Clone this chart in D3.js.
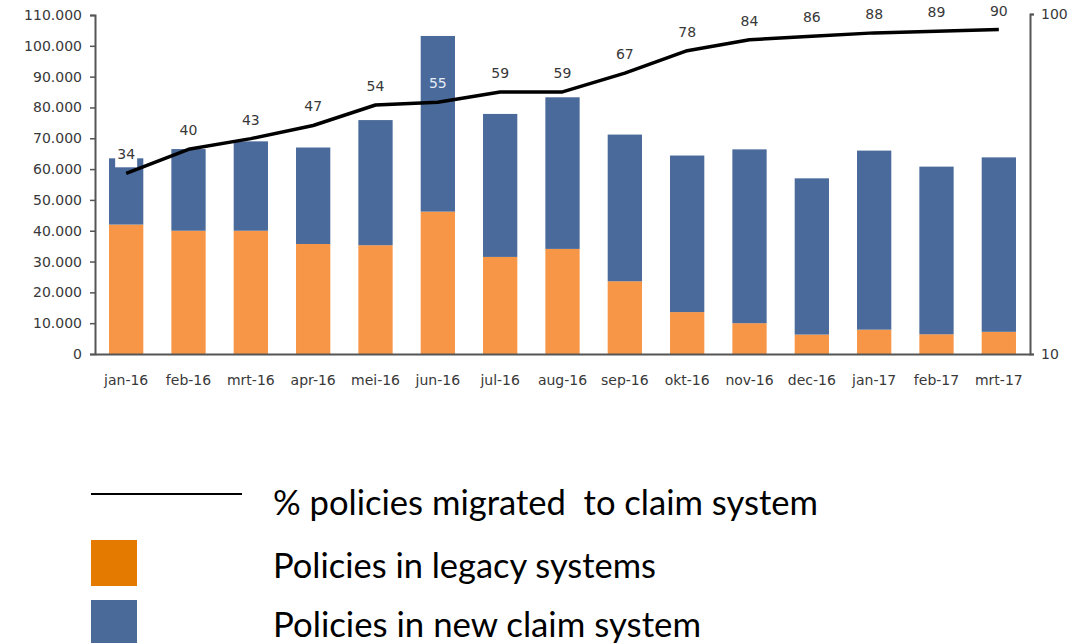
<!DOCTYPE html>
<html>
<head>
<meta charset="utf-8">
<script src="https://cdn.jsdelivr.net/npm/d3@7"></script>
<style>
  html, body { margin: 0; padding: 0; background: #ffffff; }
  svg { display: block; }
</style>
</head>
<body>
<svg id="chart" width="1087" height="643"></svg>
<script>
// ---- data ----
const months = ["jan-16","feb-16","mrt-16","apr-16","mei-16","jun-16","jul-16","aug-16","sep-16","okt-16","nov-16","dec-16","jan-17","feb-17","mrt-17"];
const legacy = [42000, 40000, 40000, 35700, 35300, 46200, 31500, 34100, 23600, 13600, 10000, 6300, 7900, 6400, 7200];
const newSystem = [21500, 26500, 29000, 31300, 40600, 57000, 46400, 49200, 47600, 50800, 56400, 50700, 58100, 54400, 56600];
const migratedPct = [34, 40, 43, 47, 54, 55, 59, 59, 67, 78, 84, 86, 88, 89, 90];
const leftTicks = [0, 10000, 20000, 30000, 40000, 50000, 60000, 70000, 80000, 90000, 100000, 110000];
const rightTicks = [10, 100];
const legendLabels = ["% policies migrated  to claim system", "Policies in legacy systems", "Policies in new claim system"];

// ---- layout ----
const svg = d3.select("#chart");
const plotL = 95, plotR = 1030, plotT = 15, plotB = 354;
const colOrange = "#F79646", colBlue = "#4A6A9B";
const legOrange = "#E57A00", legBlue = "#4A6A9A";
const axisCol = "#555555", textCol = "#383838";
const tickFont = "DejaVu Sans, Verdana, sans-serif";

const nl = d3.formatLocale({decimal: ",", thousands: ".", grouping: [3], currency: ["€", ""]});
const fmt = nl.format(",");

const x = d3.scaleBand().domain(months).range([plotL, plotR]).paddingInner(0.45).paddingOuter(0.225);
const y = d3.scaleLinear().domain([0, 110000]).range([plotB, plotT]);
const y2 = d3.scaleLog().domain([10, 100]).range([plotB, plotT - 1]);

// stacked bars
const rows = months.map((m, i) => ({month: m, legacy: legacy[i], newSystem: newSystem[i]}));
const stack = d3.stack().keys(["legacy", "newSystem"])(rows);
const colors = {legacy: colOrange, newSystem: colBlue};

svg.append("g").selectAll("g").data(stack).join("g")
  .attr("fill", d => colors[d.key])
  .selectAll("rect").data(d => d).join("rect")
  .attr("x", d => x(d.data.month))
  .attr("width", x.bandwidth())
  .attr("y", d => y(d[1]))
  .attr("height", d => y(d[0]) - y(d[1]));

// left axis
const gL = svg.append("g").attr("transform", `translate(${plotL},0)`)
  .call(d3.axisLeft(y).tickValues(leftTicks).tickFormat(d => fmt(d)).tickSize(5).tickPadding(8));
gL.select(".domain").attr("stroke", axisCol).attr("stroke-width", 2);
gL.selectAll(".tick line").attr("stroke", axisCol).attr("stroke-width", 1.5);
gL.selectAll("text").attr("font-family", tickFont).attr("font-size", 14).attr("fill", textCol);

// right axis
const gR = svg.append("g").attr("transform", `translate(${plotR},0)`)
  .call(d3.axisRight(y2).tickValues(rightTicks).tickFormat(d3.format("d")).tickSize(4).tickPadding(7));
gR.select(".domain").attr("stroke", axisCol).attr("stroke-width", 2);
gR.selectAll(".tick line").attr("stroke", axisCol).attr("stroke-width", 1.5);
gR.selectAll("text").attr("font-family", tickFont).attr("font-size", 14).attr("fill", textCol);

// bottom axis
const gB = svg.append("g").attr("transform", `translate(0,${plotB})`)
  .call(d3.axisBottom(x).tickSize(0).tickPadding(21));
gB.select(".domain").attr("stroke", axisCol).attr("stroke-width", 2);
gB.selectAll("text").attr("font-family", tickFont).attr("font-size", 14).attr("fill", textCol);

// line
const pts = months.map((m, i) => ({month: m, v: migratedPct[i]}));
const line = d3.line().x(d => x(d.month) + x.bandwidth() / 2).y(d => y2(d.v));
svg.append("path").datum(pts)
  .attr("fill", "none").attr("stroke", "#000").attr("stroke-width", 3.5)
  .attr("stroke-linejoin", "round").attr("d", line);

// line labels
const lblG = svg.append("g");
pts.forEach((d, i) => {
  const cx = x(d.month) + x.bandwidth() / 2;
  const cy = y2(d.v) - 14;
  if (i === 0) {
    lblG.append("rect").attr("x", cx - 11).attr("y", cy - 14).attr("width", 22).attr("height", 22).attr("fill", "#fff");
  }
  lblG.append("text").attr("x", cx).attr("y", cy)
    .attr("text-anchor", "middle")
    .attr("font-family", tickFont).attr("font-size", 14)
    .attr("fill", i === 5 ? "#e6edf7" : textCol)
    .text(d.v);
});

// legend
const leg = svg.append("g");
const legFont = "Lato, 'Open Sans', sans-serif";
leg.append("line").attr("x1", 91).attr("x2", 242).attr("y1", 494).attr("y2", 494)
  .attr("stroke", "#000").attr("stroke-width", 2);
leg.append("rect").attr("x", 91).attr("y", 540).attr("width", 46).attr("height", 46).attr("fill", legOrange);
leg.append("rect").attr("x", 91).attr("y", 600).attr("width", 46).attr("height", 46).attr("fill", legBlue);
const legY = [515, 578, 637];
const legW = [545, 383, 428];
legendLabels.forEach((t, i) => {
  leg.append("text").attr("x", 273).attr("y", legY[i])
    .attr("font-family", legFont).attr("font-size", 34).attr("fill", "#000")
    .style("white-space", "pre")
    .attr("textLength", legW[i]).attr("lengthAdjust", "spacingAndGlyphs")
    .text(t);
});
</script>
</body>
</html>
